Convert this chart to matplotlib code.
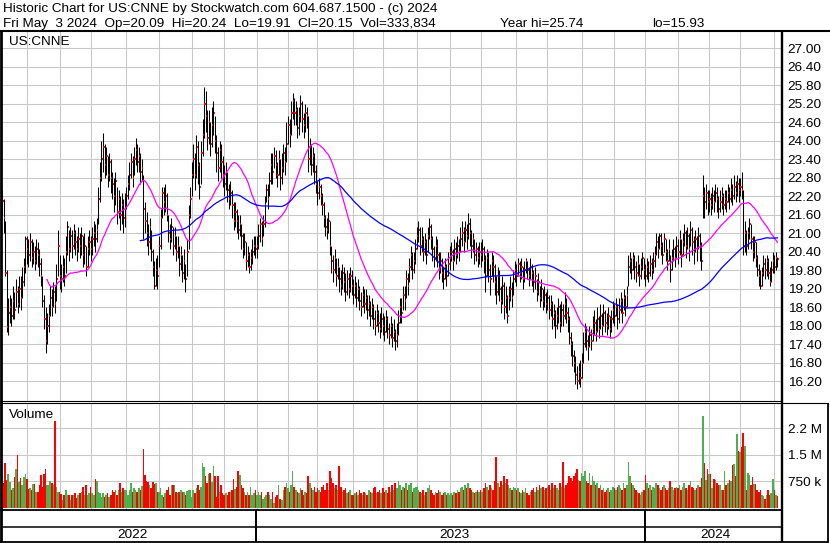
import matplotlib
matplotlib.use("Agg")
import matplotlib.pyplot as plt
import numpy as np
import pandas as pd

plt.rcParams['font.family'] = ['Liberation Sans', 'DejaVu Sans']

# NYSE holidays inside the chart window
nyse_holidays = ["2022-05-30", "2022-06-20", "2022-07-04", "2022-09-05", "2022-11-24",
                 "2022-12-26", "2023-01-02", "2023-01-16", "2023-02-20", "2023-04-07",
                 "2023-05-29", "2023-06-19", "2023-07-04", "2023-09-04", "2023-11-23",
                 "2023-12-25", "2024-01-01", "2024-01-15", "2024-02-19", "2024-03-29"]

# daily closes, one row per month (May 2022 .. May 2024)
close = [
    22.05, 21.5, 19.7, 17.95, 18.4, 18.6, 18.3, 18.8, 18.5, 19.1, 18.7, 19.2, 18.9, 19.4, 19.9, 20.8,
    20.5, 20.3, 20.7, 20.2, 20.4, 20.1, 20.5, 20.3, 20.0, 19.6, 18.8, 18.2, 17.5, 18.0, 18.3, 18.9, 18.6, 19.1, 18.7, 19.5, 20.6,
    19.6, 19.5, 19.9, 19.6, 20.4, 21.2, 20.5, 20.9, 20.6, 21.0, 20.7, 20.5, 20.8, 20.6, 20.9, 20.3, 20.6, 19.9, 20.5, 20.7,
    20.5, 20.8, 21.0, 20.8, 21.1, 22.1, 22.8, 23.4, 23.8, 23.2, 23.5, 22.9, 23.3, 22.8, 22.6, 22.2, 22.7, 21.7, 22.1, 21.6, 21.9, 21.5, 21.8,
    22.2, 22.6, 22.9, 23.3, 22.8, 23.4, 23.7, 23.3, 23.5, 23.0, 23.1, 21.8, 21.4, 21.0, 20.7, 21.2, 20.4, 19.9, 19.3, 19.8, 19.6,
    20.6, 21.5, 22.3, 22.0, 22.2, 21.6, 21.0, 20.8, 21.2, 20.6, 20.9, 20.4, 20.6, 20.0, 20.3, 19.7, 20.1, 19.5, 20.4, 21.6, 22.1,
    22.9, 23.4, 22.9, 23.8, 23.2, 22.5, 23.6, 24.2, 25.2, 24.8, 24.1, 24.6, 23.9, 24.5, 24.9, 24.0, 23.6, 23.1, 23.7, 23.3, 22.9,
    22.6, 23.0, 22.4, 22.1, 22.3, 21.9, 21.4, 21.7, 21.4, 21.1, 21.3, 20.9, 20.5, 20.7, 20.1, 20.3, 19.9, 20.2, 20.4, 20.6, 20.5,
    20.6, 20.9, 21.3, 20.8, 21.3, 21.9, 22.4, 22.1, 22.7, 23.2, 23.0, 23.5, 23.2, 22.9, 23.4, 22.8, 23.1, 23.6, 23.3, 23.9,
    24.5, 24.2, 24.9, 25.3, 24.9, 25.0, 24.4, 24.8, 25.2, 24.7, 24.5, 24.9, 24.8, 23.4, 23.8, 23.2, 23.5, 23.0, 22.6,
    22.3, 22.5, 22.2, 21.9, 21.5, 21.2, 21.1, 21.4, 20.6, 20.1, 19.8, 20.2, 19.6, 19.9, 19.5, 19.3, 19.7, 19.4, 19.1, 19.5, 19.2, 19.6, 19.3,
    19.0, 19.3, 18.9, 19.2, 18.8, 18.6, 19.0, 18.7, 18.9, 18.5, 18.7, 18.3, 18.6, 18.2, 18.0, 18.4, 18.1, 17.9, 18.2,
    18.0, 17.8, 18.2, 17.9, 17.7, 18.0, 17.6, 17.8, 17.5, 17.7, 18.1, 18.6, 18.4, 19.0, 18.8, 19.5, 19.3, 19.9, 20.3, 19.8, 20.1, 20.5,
    20.9, 21.1, 20.6, 20.8, 20.4, 20.7, 20.3, 20.9, 21.2, 20.8, 20.5, 20.2, 20.6, 20.3, 19.8, 20.1, 19.7, 19.5, 19.9, 19.6, 20.0,
    20.2, 20.4, 20.1, 20.5, 20.3, 20.6, 20.4, 20.8, 21.0, 20.7, 21.1, 20.9, 21.3, 21.0, 20.6, 20.8, 20.3, 20.5, 20.2, 20.4,
    20.3, 20.5, 20.1, 19.6, 20.2, 19.8, 19.5, 20.1, 19.9, 19.4, 19.1, 19.6, 19.2, 18.8, 19.3, 18.6, 18.9, 18.3, 18.9, 19.2, 18.9, 19.5, 19.8,
    19.6, 20.0, 19.7, 19.9, 19.5, 19.8, 20.1, 19.8, 19.6, 19.9, 19.7, 19.4, 19.6, 19.1, 19.4, 18.9, 19.2, 18.8, 19.0, 18.7,
    18.9, 18.5, 18.7, 18.2, 18.4, 18.0, 18.3, 18.6, 18.1, 18.5, 18.3, 18.7, 18.4, 18.2, 17.6, 17.4, 17.0, 16.8, 16.4, 16.2, 16.5, 16.3,
    16.8, 17.4, 17.8, 17.5, 17.3, 17.7, 17.5, 17.9, 18.1, 17.8, 18.2, 17.9, 18.3, 18.0, 18.4, 18.1, 18.0, 18.3, 17.9, 18.2, 18.5,
    18.3, 18.6, 18.2, 18.5, 18.8, 18.4, 18.9, 18.6, 19.0, 19.9, 20.1, 19.8, 20.2, 19.9, 19.7, 20.0, 19.6, 19.9, 20.2, 19.8,
    19.6, 19.9, 19.7, 20.0, 19.8, 20.1, 20.3, 20.7, 20.5, 20.9, 20.6, 20.3, 20.8, 20.4, 20.1, 20.5, 19.8, 20.2, 20.5, 20.2, 20.6,
    20.4, 20.8, 20.3, 20.7, 21.0, 20.6, 20.9, 20.5, 21.1, 20.7, 20.4, 20.8, 20.5, 20.9, 20.6, 20.1, 22.2, 22.0, 22.3, 22.0,
    22.1, 21.9, 22.2, 22.0, 22.3, 22.1, 21.8, 22.0, 22.2, 21.9, 22.1, 22.0, 22.3, 22.1, 22.4, 22.2, 22.5, 22.3, 22.6, 22.4,
    22.5, 22.4, 20.6, 21.0, 20.6, 21.0, 21.3, 20.8, 20.4, 20.7, 20.2, 19.8, 19.6, 19.3, 19.7, 20.0, 19.8, 20.1, 19.7, 19.4, 19.8, 20.1,
    19.9, 20.2, 20.15,
]

high = [
    22.4, 22.1, 21.4, 19.8, 18.9, 19.0, 18.9, 19.3, 19.1, 19.5, 19.3, 19.6, 19.6, 19.9, 20.2, 20.9,
    20.9, 20.8, 21.0, 20.8, 20.7, 20.6, 20.8, 20.7, 20.5, 20.2, 19.6, 19.0, 18.6, 18.4, 18.7, 19.3, 19.2, 19.4, 19.3, 20.0, 21.1,
    20.3, 20.0, 20.3, 20.2, 20.9, 21.4, 21.1, 21.2, 21.1, 21.3, 21.1, 20.9, 21.2, 21.0, 21.2, 20.9, 21.0, 20.6, 20.9, 21.1,
    20.9, 21.2, 21.4, 21.3, 21.5, 22.5, 23.3, 24.0, 24.25, 23.9, 23.8, 23.5, 23.6, 23.4, 23.0, 22.8, 23.0, 22.5, 22.4, 22.2, 22.3, 22.1, 22.3,
    22.5, 22.9, 23.3, 23.6, 23.5, 23.8, 24.1, 23.9, 23.8, 23.6, 23.4, 22.9, 22.0, 21.7, 21.3, 21.5, 21.1, 20.5, 20.1, 20.2, 20.3,
    20.9, 21.8, 22.5, 22.5, 22.6, 22.3, 21.6, 21.3, 21.5, 21.2, 21.2, 20.9, 20.9, 20.6, 20.6, 20.3, 20.5, 20.0, 20.8, 21.9, 22.5,
    23.3, 23.9, 23.6, 24.2, 24.0, 23.3, 24.0, 24.7, 25.74, 25.6, 25.0, 25.0, 24.6, 25.1, 25.3, 24.8, 24.2, 23.8, 24.0, 23.9, 23.5,
    23.2, 23.3, 23.0, 22.6, 22.7, 22.4, 22.0, 22.0, 21.8, 21.6, 21.6, 21.3, 21.0, 21.0, 20.7, 20.6, 20.4, 20.5, 20.8, 20.9, 20.9,
    20.9, 21.3, 21.5, 21.4, 21.6, 22.2, 22.6, 22.6, 23.0, 23.6, 23.6, 23.8, 23.7, 23.3, 23.7, 23.4, 23.6, 23.9, 23.8, 24.6,
    24.8, 24.7, 25.3, 25.55, 25.4, 25.3, 25.1, 25.1, 25.5, 25.3, 24.9, 25.2, 25.1, 24.8, 24.1, 23.9, 23.8, 23.6, 23.2,
    22.7, 22.8, 22.6, 22.3, 22.0, 21.6, 21.5, 21.7, 21.4, 20.6, 20.3, 20.5, 20.2, 20.2, 19.9, 19.8, 20.0, 19.9, 19.7, 19.8, 19.7, 19.9, 19.8,
    19.5, 19.6, 19.4, 19.5, 19.3, 19.1, 19.3, 19.2, 19.2, 19.0, 19.0, 18.8, 18.9, 18.7, 18.5, 18.7, 18.5, 18.4, 18.6,
    18.4, 18.3, 18.5, 18.3, 18.1, 18.3, 18.1, 18.2, 17.9, 18.1, 18.5, 18.9, 18.9, 19.3, 19.3, 19.8, 19.7, 20.2, 20.6, 20.4, 20.4, 20.8,
    21.2, 21.4, 21.2, 21.2, 20.9, 21.0, 20.8, 21.2, 21.5, 21.3, 20.9, 20.6, 20.9, 20.8, 20.4, 20.4, 20.2, 19.9, 20.2, 20.0, 20.4,
    20.6, 20.7, 20.5, 20.8, 20.7, 20.9, 20.8, 21.2, 21.4, 21.2, 21.4, 21.3, 21.65, 21.5, 21.1, 21.0, 20.8, 20.7, 20.6, 20.7,
    20.7, 20.8, 20.6, 20.3, 20.5, 20.4, 20.0, 20.4, 20.3, 20.0, 19.6, 19.9, 19.8, 19.3, 19.6, 19.4, 19.3, 19.0, 19.3, 19.6, 19.4, 19.8, 20.1,
    20.0, 20.2, 20.1, 20.2, 19.9, 20.1, 20.2, 20.1, 19.9, 20.2, 20.0, 19.8, 19.9, 19.5, 19.7, 19.3, 19.5, 19.2, 19.3, 19.1,
    19.2, 19.0, 19.0, 18.8, 18.7, 18.5, 18.6, 18.9, 18.7, 18.8, 18.7, 19.1, 18.9, 18.6, 18.3, 17.8, 17.5, 17.2, 17.0, 16.7, 16.8, 16.9,
    17.1, 17.8, 18.1, 18.0, 17.7, 18.0, 17.9, 18.3, 18.5, 18.2, 18.6, 18.3, 18.7, 18.4, 18.7, 18.5, 18.4, 18.6, 18.3, 18.5, 18.8,
    18.7, 18.9, 18.7, 18.9, 19.1, 18.9, 19.2, 19.0, 19.3, 20.3, 20.4, 20.2, 20.4, 20.3, 20.1, 20.3, 20.0, 20.2, 20.4, 20.2,
    20.0, 20.2, 20.1, 20.3, 20.2, 20.4, 20.6, 21.0, 20.9, 21.0, 21.0, 20.7, 21.0, 20.8, 20.5, 20.8, 20.3, 20.5, 20.8, 20.6, 20.9,
    20.8, 21.1, 20.8, 21.0, 21.3, 21.1, 21.2, 21.0, 21.4, 21.2, 20.9, 21.1, 20.9, 21.2, 21.0, 20.7, 22.9, 22.5, 22.6, 22.4,
    22.4, 22.3, 22.5, 22.4, 22.6, 22.5, 22.2, 22.4, 22.5, 22.3, 22.4, 22.4, 22.6, 22.5, 22.8, 22.6, 22.9, 22.7, 22.9, 22.8,
    22.8, 23.0, 22.4, 21.4, 21.1, 21.2, 21.5, 21.3, 20.9, 20.9, 20.7, 20.3, 20.0, 19.8, 19.9, 20.3, 20.2, 20.3, 20.2, 19.9, 20.1, 20.4,
    20.3, 20.4, 20.24,
]

low = [
    21.6, 21.0, 19.6, 17.8, 17.7, 18.1, 18.0, 18.2, 18.2, 18.6, 18.4, 18.6, 18.5, 18.9, 19.3, 19.7,
    20.0, 19.9, 20.1, 19.9, 20.0, 19.8, 20.0, 19.9, 19.6, 19.3, 18.6, 17.9, 17.1, 17.4, 17.8, 18.3, 18.3, 18.6, 18.4, 18.8, 19.6,
    19.2, 19.1, 19.4, 19.3, 19.7, 20.3, 20.1, 20.4, 20.2, 20.5, 20.3, 20.1, 20.4, 20.2, 20.3, 19.9, 20.0, 19.6, 19.9, 20.3,
    20.1, 20.3, 20.6, 20.4, 20.7, 21.3, 22.0, 22.7, 23.0, 22.8, 22.9, 22.5, 22.7, 22.3, 22.1, 21.7, 21.9, 21.3, 21.5, 21.1, 21.3, 21.0, 21.2,
    21.8, 22.1, 22.4, 22.8, 22.5, 22.9, 23.2, 23.0, 23.0, 22.6, 22.7, 20.8, 21.0, 20.6, 20.3, 20.5, 20.1, 19.6, 19.2, 19.3, 19.2,
    19.9, 20.5, 21.5, 21.6, 21.7, 21.4, 20.7, 20.5, 20.7, 20.3, 20.5, 20.1, 20.2, 19.6, 19.8, 19.4, 19.5, 19.1, 19.6, 20.5, 21.5,
    22.2, 22.8, 22.4, 22.8, 22.6, 22.1, 22.6, 23.5, 24.1, 24.3, 23.7, 23.9, 23.5, 23.8, 24.2, 23.6, 23.0, 22.7, 23.0, 22.8, 22.5,
    22.2, 22.4, 22.0, 21.8, 21.9, 21.5, 21.1, 21.2, 21.0, 20.8, 20.9, 20.5, 20.2, 20.3, 19.8, 19.9, 19.7, 19.8, 20.0, 20.3, 20.2,
    20.2, 20.5, 20.7, 20.6, 20.9, 21.2, 22.0, 21.8, 22.2, 22.6, 22.6, 23.1, 22.8, 22.5, 22.9, 22.4, 22.6, 23.0, 22.9, 23.3,
    23.9, 23.8, 24.2, 24.7, 24.5, 24.5, 24.1, 24.2, 24.6, 24.3, 24.1, 24.3, 24.4, 23.0, 23.2, 22.9, 23.0, 22.6, 22.3,
    21.9, 22.1, 21.9, 21.6, 21.2, 20.9, 20.8, 21.0, 20.3, 19.7, 19.4, 19.7, 19.3, 19.5, 19.1, 19.0, 19.2, 19.1, 18.8, 19.0, 18.9, 19.1, 19.0,
    18.7, 18.9, 18.6, 18.8, 18.5, 18.3, 18.6, 18.4, 18.5, 18.2, 18.3, 18.0, 18.2, 17.9, 17.7, 18.0, 17.8, 17.6, 17.8,
    17.7, 17.5, 17.8, 17.6, 17.4, 17.6, 17.3, 17.5, 17.2, 17.3, 17.7, 18.1, 18.1, 18.5, 18.5, 18.9, 19.0, 19.4, 19.8, 19.5, 19.7, 20.0,
    20.5, 20.7, 20.3, 20.4, 20.1, 20.3, 20.0, 20.4, 20.8, 20.5, 20.1, 19.9, 20.1, 19.9, 19.5, 19.7, 19.4, 19.2, 19.5, 19.3, 19.6,
    19.8, 20.1, 19.8, 20.1, 20.0, 20.2, 20.1, 20.4, 20.6, 20.4, 20.7, 20.5, 20.8, 20.6, 20.2, 20.4, 20.0, 20.1, 19.9, 20.0,
    19.9, 20.1, 19.7, 19.1, 19.6, 19.4, 19.0, 19.6, 19.4, 19.0, 18.7, 19.0, 18.8, 18.4, 18.7, 18.2, 18.4, 18.1, 18.5, 18.8, 18.6, 19.0, 19.4,
    19.3, 19.6, 19.4, 19.5, 19.2, 19.4, 19.7, 19.5, 19.3, 19.5, 19.3, 19.1, 19.2, 18.8, 19.0, 18.6, 18.8, 18.5, 18.6, 18.4,
    18.5, 18.2, 18.3, 17.9, 18.0, 17.6, 17.9, 18.1, 17.8, 18.0, 18.0, 18.2, 18.1, 17.8, 17.4, 17.0, 16.7, 16.5, 16.1, 15.93, 16.1, 16.0,
    16.3, 16.8, 17.3, 17.2, 16.9, 17.3, 17.2, 17.5, 17.7, 17.5, 17.8, 17.6, 17.9, 17.7, 18.0, 17.8, 17.7, 17.9, 17.6, 17.8, 18.1,
    18.0, 18.3, 17.9, 18.1, 18.4, 18.1, 18.5, 18.3, 18.6, 19.3, 19.7, 19.5, 19.8, 19.5, 19.4, 19.6, 19.3, 19.5, 19.8, 19.5,
    19.3, 19.5, 19.4, 19.6, 19.5, 19.7, 19.9, 20.3, 20.2, 20.5, 20.3, 20.0, 20.4, 20.1, 19.8, 20.1, 19.4, 19.8, 20.1, 19.9, 20.2,
    20.0, 20.3, 19.9, 20.3, 20.6, 20.2, 20.5, 20.1, 20.6, 20.3, 20.0, 20.4, 20.1, 20.5, 20.1, 19.8, 21.5, 21.5, 21.8, 21.6,
    21.7, 21.6, 21.8, 21.7, 22.0, 21.7, 21.5, 21.7, 21.8, 21.6, 21.8, 21.7, 22.0, 21.8, 22.0, 21.9, 22.1, 22.0, 22.2, 22.0,
    22.2, 22.1, 20.3, 20.4, 20.3, 20.5, 20.8, 20.5, 20.1, 20.2, 19.9, 19.6, 19.3, 19.2, 19.3, 19.6, 19.5, 19.6, 19.5, 19.3, 19.4, 19.7,
    19.7, 19.8, 19.91,
]

# daily volume in thousands of shares
volume_k = [
    420, 700, 1260, 790, 950, 730, 510, 560, 870, 1100, 1500, 730, 860, 660, 880, 950,
    830, 550, 570, 500, 690, 670, 460, 460, 640, 920, 600, 970, 1110, 640, 640, 760, 700, 640, 2460, 600, 460,
    460, 390, 220, 380, 500, 380, 380, 220, 380, 380, 420, 290, 380, 420, 460, 600, 360, 640, 380, 420,
    600, 420, 380, 820, 750, 460, 420, 310, 420, 310, 380, 420, 310, 380, 500, 460, 500, 380, 500, 700, 460, 560, 500,
    500, 380, 500, 720, 460, 560, 500, 460, 560, 500, 620, 1660, 920, 760, 740, 640, 560, 740, 680, 720, 460,
    460, 560, 380, 310, 420, 500, 600, 380, 640, 660, 660, 460, 420, 460, 500, 460, 460, 380, 480, 500, 500,
    310, 500, 420, 560, 640, 500, 600, 1260, 1160, 900, 700, 950, 1000, 740, 1200, 900, 310, 900, 460, 640, 420,
    380, 420, 380, 460, 460, 500, 830, 530, 600, 1040, 920, 640, 560, 460, 380, 460, 380, 600, 380, 420, 500,
    380, 460, 380, 460, 270, 310, 380, 460, 380, 270, 460, 130, 310, 380, 640, 270, 220, 500, 600, 700,
    560, 460, 640, 1060, 600, 500, 460, 420, 560, 500, 380, 460, 420, 900, 700, 560, 500, 600, 460,
    560, 500, 460, 600, 640, 500, 700, 500, 1060, 840, 700, 560, 640, 500, 1200, 600, 460, 500, 560, 420, 460, 500, 380,
    380, 420, 460, 380, 500, 420, 380, 460, 420, 380, 500, 460, 420, 560, 600, 420, 460, 500, 420,
    560, 460, 500, 420, 600, 460, 640, 500, 700, 560, 760, 640, 500, 600, 560, 700, 500, 640, 700, 460, 560, 600,
    600, 500, 460, 420, 500, 380, 460, 560, 640, 500, 420, 380, 460, 420, 500, 460, 380, 420, 460, 380, 420,
    380, 420, 380, 460, 420, 500, 460, 560, 600, 500, 640, 560, 700, 560, 500, 460, 420, 460, 500, 460,
    500, 460, 560, 700, 600, 500, 640, 560, 500, 760, 1440, 700, 600, 760, 640, 900, 700, 820, 640, 560, 500, 600, 560,
    500, 560, 460, 420, 500, 460, 560, 420, 380, 460, 500, 560, 460, 600, 500, 640, 560, 600, 500, 560,
    600, 640, 500, 700, 560, 640, 560, 500, 700, 600, 1300, 560, 640, 700, 900, 840, 760, 900, 1000, 1100, 800, 760,
    1000, 900, 1060, 760, 700, 1000, 640, 900, 760, 640, 700, 560, 640, 500, 560, 460, 500, 560, 460, 500, 600,
    560, 500, 600, 640, 560, 500, 700, 560, 640, 1300, 900, 700, 640, 560, 500, 460, 420, 380, 460, 500,
    930, 700, 560, 640, 500, 600, 560, 700, 640, 560, 500, 600, 640, 560, 500, 560, 760, 600, 500, 560, 600,
    560, 640, 500, 600, 700, 560, 500, 640, 760, 600, 560, 500, 560, 640, 600, 840, 2600, 1260, 780, 1100,
    950, 950, 560, 830, 800, 700, 640, 660, 500, 500, 1040, 640, 700, 800, 760, 1210, 1230, 900, 2080, 1620,
    1570, 1730, 2130, 1760, 500, 1000, 920, 640, 870, 690, 690, 500, 460, 500, 380, 330, 270, 380, 500, 380, 420, 830,
    500, 380, 334,
]

price_ticks = [16.2, 16.8, 17.4, 18.0, 18.6, 19.2, 19.8, 20.4, 21.0, 21.6, 22.2, 22.8,
               23.4, 24.0, 24.6, 25.2, 25.8, 26.4, 27.0]
vol_ticks = [750e3, 1.5e6, 2.25e6]
vol_labels = ["750 k", "1.5 M", "2.2 M"]
title1 = "Historic Chart for US:CNNE by Stockwatch.com 604.687.1500 - (c) 2024"
title2 = "Fri May  3 2024  Op=20.09  Hi=20.24  Lo=19.91  Cl=20.15  Vol=333,834"
title2_year_hi = "Year hi=25.74"
title2_year_lo = "lo=15.93"

close = np.array(close)
high = np.array(high)
low = np.array(low)
volume = np.array(volume_k) * 1000.0
n = len(close)
idx = np.arange(n)
dates = pd.bdate_range("2022-05-09", "2024-05-03", freq="C", holidays=nyse_holidays)[:n]

ma_fast = pd.Series(close).rolling(30).mean()
ma_slow = pd.Series(close).rolling(90).mean()

chg = np.diff(close, prepend=close[0])
vol_colors = np.where(chg > 0, "#4CB04C", np.where(chg < 0, "#FF0000", "#A0A0A0"))

month_starts = [i for i in range(1, n) if dates[i].month != dates[i - 1].month]
year_starts = [i for i in range(1, n) if dates[i].year != dates[i - 1].year]

W, H = 830, 543
def rect(x0, y0, x1, y1):
    return [x0 / W, 1 - y1 / H, (x1 - x0) / W, (y1 - y0) / H]

xlim = (-0.35, n + 1.6)
grid_kw = dict(color="#C8C8C8", lw=0.75)
fs = 9.7

fig = plt.figure(figsize=(W / 100, H / 100), dpi=100)

# price panel
ax = fig.add_axes(rect(1.5, 32, 781.5, 400.5))
ax.set_xlim(xlim)
ax.set_ylim(15.57, 27.53)
ax.set_xticks(month_starts)
ax.set_yticks(price_ticks)
ax.set_yticklabels([f"{v:.2f}" for v in price_ticks])
ax.yaxis.tick_right()
ax.tick_params(axis="y", length=0, pad=4.5, labelsize=fs)
ax.tick_params(axis="x", length=0, labelbottom=False)
ax.grid(True, **grid_kw)
ax.set_axisbelow(True)
for s in ax.spines.values():
    s.set_visible(False)
ax.vlines(idx, low, high, color="black", lw=0.75)
ax.hlines(close, idx + 0.2, idx + 1.0, color="#FF0000", lw=1.4)
ax.plot(idx, ma_fast, color="#FF00FF", lw=0.9)
ax.plot(idx, ma_slow, color="#0000FF", lw=0.9)
ax.text(0.009, 0.965, "US:CNNE", transform=ax.transAxes, fontsize=fs, va="baseline")

# volume panel
axv = fig.add_axes(rect(1.5, 403.5, 781.5, 509.5))
axv.set_xlim(xlim)
axv.set_ylim(-0.04e6, 2.95e6)
axv.bar(idx, volume, width=1.0, color=vol_colors, linewidth=0)
axv.set_xticks(month_starts)
axv.set_yticks(vol_ticks)
axv.set_yticklabels(vol_labels)
axv.yaxis.tick_right()
axv.tick_params(axis="y", length=0, pad=4.5, labelsize=fs)
axv.tick_params(axis="x", length=0, labelbottom=False)
axv.grid(True, **grid_kw)
axv.set_axisbelow(True)
for s in axv.spines.values():
    s.set_visible(False)
axv.text(0.009, 0.86, "Volume", transform=axv.transAxes, fontsize=fs, va="baseline")

# date band with years
axd = fig.add_axes(rect(1.5, 509.5, 781.5, 541.7))
axd.set_xlim(xlim)
axd.set_ylim(32.2, 0)
axd.axis("off")
axd.axhline(17, color="black", lw=1.1)
for b in year_starts:
    axd.axvline(b - 0.5, color="black", lw=1.4)
edges = [0] + year_starts + [n]
for a, b in zip(edges[:-1], edges[1:]):
    axd.text((a + b) / 2 + 2, 25, str(dates[a].year), ha="center", va="center", fontsize=fs)

# frame lines and header text in pixel coordinates
ov = fig.add_axes([0, 0, 1, 1], zorder=10)
ov.set_xlim(0, W)
ov.set_ylim(H, 0)
ov.axis("off")
ov.patch.set_alpha(0)
k = dict(color="black", solid_capstyle="butt")
ov.plot([0, W], [31, 31], lw=1.5, **k)
ov.plot([1, 1], [31, 542], lw=2.0, **k)
ov.plot([781.8, 781.8], [31, 542], lw=1.7, **k)
ov.plot([0, 782], [400.5, 400.5], lw=0.8, **k)
ov.plot([0, 828], [402.8, 402.8], lw=0.8, **k)
ov.plot([0, 782], [509.6, 509.6], lw=1.3, **k)
ov.plot([0, 828.5], [541.8, 541.8], lw=1.3, **k)
ov.plot([828.3, 828.3], [402.5, 542], lw=1.3, **k)
ov.text(3, 11.7, title1, fontsize=fs, va="baseline")
ov.text(3, 26.7, title2, fontsize=fs, va="baseline")
ov.text(500, 26.7, title2_year_hi, fontsize=fs, va="baseline")
ov.text(652, 26.7, title2_year_lo, fontsize=fs, va="baseline")

fig.savefig("out.png", dpi=100)
